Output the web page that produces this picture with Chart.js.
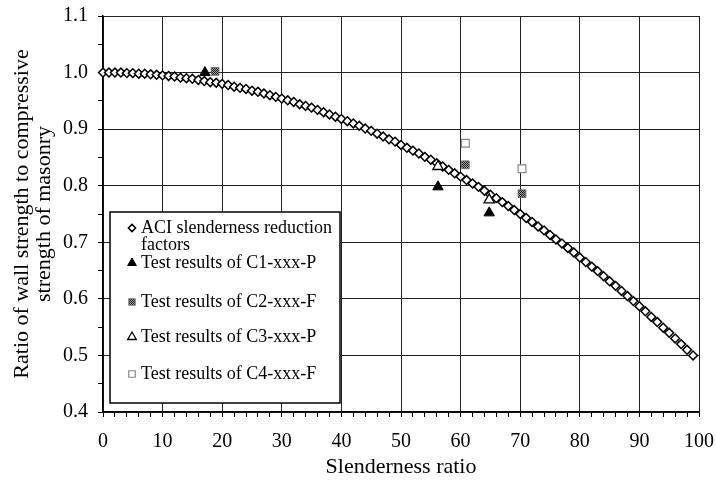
<!DOCTYPE html>
<html>
<head>
<meta charset="utf-8">
<script src="https://cdn.jsdelivr.net/npm/chart.js@4.4.1/dist/chart.umd.min.js"></script>
<style>
  html, body { margin: 0; padding: 0; background: #fff; }
  canvas { display: block; }
</style>
</head>
<body>
<canvas id="chart" width="716" height="480"></canvas>
<script>
// ACI slenderness reduction factors, one point per unit of slenderness ratio
const aciRatio = [
  0, 1, 2, 3, 4, 5, 6, 7, 8, 9, 10, 11, 12, 13, 14, 15, 16, 17, 18, 19,
  20, 21, 22, 23, 24, 25, 26, 27, 28, 29, 30, 31, 32, 33, 34, 35, 36, 37, 38, 39,
  40, 41, 42, 43, 44, 45, 46, 47, 48, 49, 50, 51, 52, 53, 54, 55, 56, 57, 58, 59,
  60, 61, 62, 63, 64, 65, 66, 67, 68, 69, 70, 71, 72, 73, 74, 75, 76, 77, 78, 79,
  80, 81, 82, 83, 84, 85, 86, 87, 88, 89, 90, 91, 92, 93, 94, 95, 96, 97, 98, 99
];
const aciFactor = [
  1.000, 1.000, 1.000, 1.000, 0.999, 0.999, 0.998, 0.998, 0.997, 0.996, 0.995, 0.994, 0.993, 0.991, 0.990, 0.989, 0.987, 0.985, 0.983, 0.982,
  0.980, 0.978, 0.975, 0.973, 0.971, 0.968, 0.966, 0.963, 0.960, 0.957, 0.954, 0.951, 0.948, 0.944, 0.941, 0.938, 0.934, 0.930, 0.926, 0.922,
  0.918, 0.914, 0.910, 0.906, 0.901, 0.897, 0.892, 0.887, 0.882, 0.878, 0.872, 0.867, 0.862, 0.857, 0.851, 0.846, 0.840, 0.834, 0.828, 0.822,
  0.816, 0.810, 0.804, 0.798, 0.791, 0.784, 0.778, 0.771, 0.764, 0.757, 0.750, 0.743, 0.736, 0.728, 0.721, 0.713, 0.705, 0.698, 0.690, 0.682,
  0.673, 0.665, 0.657, 0.649, 0.640, 0.631, 0.623, 0.614, 0.605, 0.596, 0.587, 0.578, 0.568, 0.559, 0.549, 0.540, 0.530, 0.520, 0.510, 0.500
];

// wall test results
const c1Ratio = [17.1, 56.2, 64.8];
const c1Factor = [1.000, 0.798, 0.752];
const c2Ratio = [18.8, 60.8, 70.3];
const c2Factor = [1.002, 0.837, 0.786];
const c3Ratio = [56.2, 64.8];
const c3Factor = [0.834, 0.775];
const c4Ratio = [60.8, 70.3];
const c4Factor = [0.875, 0.830];

// labelled ticks
const xTickLabels = [0, 10, 20, 30, 40, 50, 60, 70, 80, 90, 100];
const yTickLabels = ['0.4', '0.5', '0.6', '0.7', '0.8', '0.9', '1.0', '1.1'];

const FONT = '"Liberation Serif", "Times New Roman", serif';

const pts = (xs, ys) => xs.map((x, i) => ({ x: x, y: ys[i] }));

// small checkered fill for the C2 markers
function hatch() {
  const c = document.createElement('canvas');
  c.width = 2; c.height = 2;
  const g = c.getContext('2d');
  g.fillStyle = '#9a9a9a'; g.fillRect(0, 0, 2, 2);
  g.fillStyle = '#222'; g.fillRect(0, 0, 1, 1); g.fillRect(1, 1, 1, 1);
  return g.createPattern(c, 'repeat');
}

const isMajorY = v => Math.abs(v * 10 - Math.round(v * 10)) < 1e-6;

// boxed legend sitting inside the plot area
const insetLegend = {
  id: 'insetLegend',
  afterDatasetsDraw(chart, args, opts) {
    const ctx = chart.ctx;
    ctx.save();
    ctx.fillStyle = '#fff';
    ctx.strokeStyle = '#000';
    ctx.lineWidth = 1.5;
    ctx.fillRect(opts.x, opts.y, opts.w, opts.h);
    ctx.strokeRect(opts.x, opts.y, opts.w, opts.h);

    ctx.font = '18px ' + FONT;
    ctx.textBaseline = 'middle';
    ctx.textAlign = 'left';
    chart.data.datasets.forEach((ds, i) => {
      const y = opts.rows[i];
      ctx.fillStyle = ds.backgroundColor;
      ctx.strokeStyle = ds.borderColor;
      ctx.lineWidth = ds.borderWidth;
      Chart.helpers.drawPoint(ctx, {
        pointStyle: ds.pointStyle,
        radius: opts.markerRadius[i],
        rotation: 0,
        borderWidth: ds.borderWidth
      }, opts.markerX, y);

      // wrap long labels onto a second line
      const words = ds.label.split(' ');
      const lines = [];
      let line = '';
      words.forEach(w => {
        const t = line ? line + ' ' + w : w;
        if (ctx.measureText(t).width > opts.textWidth && line) {
          lines.push(line);
          line = w;
        } else {
          line = t;
        }
      });
      lines.push(line);
      ctx.fillStyle = '#000';
      lines.forEach((l, k) => ctx.fillText(l, opts.textX, y + k * 17));
    });
    ctx.restore();
  }
};

const cfg = {
  type: 'scatter',
  data: {
    datasets: [
      {
        label: 'ACI slenderness reduction factors',
        data: pts(aciRatio, aciFactor),
        pointStyle: 'rectRot',
        pointRadius: 4.4,
        backgroundColor: '#fff',
        borderColor: '#000',
        borderWidth: 1.5,
        order: 5
      },
      {
        label: 'Test results of C1-xxx-P',
        data: pts(c1Ratio, c1Factor),
        pointStyle: 'triangle',
        pointRadius: 6,
        backgroundColor: '#000',
        borderColor: '#000',
        borderWidth: 1,
        order: 1
      },
      {
        label: 'Test results of C2-xxx-F',
        data: pts(c2Ratio, c2Factor),
        pointStyle: 'rect',
        pointRadius: 5.5,
        backgroundColor: hatch(),
        borderColor: '#666',
        borderWidth: 0.8,
        order: 1
      },
      {
        label: 'Test results of C3-xxx-P',
        data: pts(c3Ratio, c3Factor),
        pointStyle: 'triangle',
        pointRadius: 6,
        backgroundColor: '#fff',
        borderColor: '#000',
        borderWidth: 1.3,
        order: 1
      },
      {
        label: 'Test results of C4-xxx-F',
        data: pts(c4Ratio, c4Factor),
        pointStyle: 'rect',
        pointRadius: 5.5,
        backgroundColor: '#fff',
        borderColor: '#888',
        borderWidth: 1.2,
        order: 1
      }
    ]
  },
  options: {
    responsive: false,
    animation: false,
    devicePixelRatio: 1,
    clip: false,
    layout: { padding: { top: 16, right: 17, left: 0, bottom: 0 } },
    plugins: {
      legend: { display: false },
      tooltip: { enabled: false },
      insetLegend: {
        x: 110, y: 212, w: 230, h: 191,
        markerX: 132, textX: 141, textWidth: 195,
        rows: [228, 263, 302, 337, 374],
        markerRadius: [3.6, 5, 4.6, 5, 4.6]
      }
    },
    scales: {
      x: {
        type: 'linear',
        min: 0,
        max: 100,
        afterFit: s => {
          s.height = 68;
          // let the end labels hang past the plot edges
          s.paddingLeft = 0;
          s.paddingRight = 0;
        },
        border: { color: '#000', width: 1.5 },
        grid: {
          color: c => xTickLabels.includes(c.tick.value) ? '#222' : 'rgba(0,0,0,0)',
          tickColor: '#000',
          tickLength: 5,
          lineWidth: 1
        },
        ticks: {
          stepSize: 2,
          autoSkip: false,
          maxRotation: 0,
          padding: 13,
          color: '#000',
          font: { family: FONT, size: 20 },
          callback: v => xTickLabels.includes(v) ? String(v) : ''
        },
        title: {
          display: true,
          text: 'Slenderness ratio',
          color: '#000',
          font: { family: FONT, size: 22, lineHeight: 1 },
          padding: { top: 0, bottom: 2 }
        }
      },
      y: {
        type: 'linear',
        min: 0.4,
        max: 1.1,
        afterFit: s => {
          s.width = 103;
          s.paddingTop = 0;
          s.paddingBottom = 0;
        },
        border: { color: '#000', width: 1.5 },
        grid: {
          color: c => isMajorY(c.tick.value) ? '#222' : 'rgba(0,0,0,0)',
          tickColor: '#000',
          tickLength: 5,
          lineWidth: 1
        },
        ticks: {
          stepSize: 0.05,
          autoSkip: false,
          padding: 10,
          color: '#000',
          font: { family: FONT, size: 20 },
          callback: v => isMajorY(v) ? yTickLabels[Math.round((v - 0.4) * 10)] : ''
        },
        title: {
          display: true,
          text: ['Ratio of wall strength to compressive', 'strength of masonry'],
          color: '#000',
          font: { family: FONT, size: 22, lineHeight: 1 },
          padding: { top: 11, bottom: 0 }
        }
      }
    }
  },
  plugins: [insetLegend]
};

new Chart(document.getElementById('chart'), cfg);
</script>
</body>
</html>
